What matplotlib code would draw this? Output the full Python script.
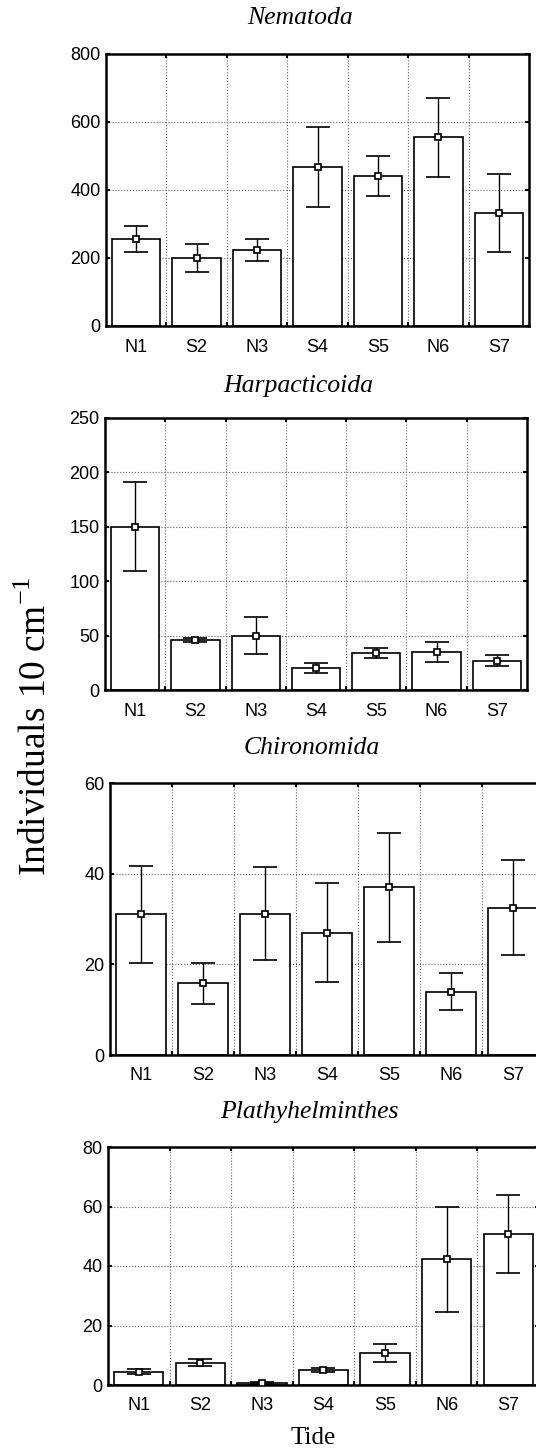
# Mean abundances (+/- error) per station, four taxa

import matplotlib.pyplot as plt
import numpy as np

plt.rcParams['font.family'] = 'Liberation Sans'
plt.rcParams['mathtext.fontset'] = 'custom'
plt.rcParams['mathtext.rm'] = 'Liberation Serif'

# Data
stations = ['N1', 'S2', 'N3', 'S4', 'S5', 'N6', 'S7']

nema_mean = [255, 200, 223, 467, 441, 555, 333]
nema_err = [38, 42, 33, 117, 59, 117, 114]

harp_mean = [150, 46, 50, 20, 34, 35, 27]
harp_err = [41, 2, 17, 4.5, 5, 9, 5]

chir_mean = [31, 15.8, 31.2, 27, 37, 14, 32.5]
chir_err = [10.7, 4.5, 10.3, 11, 12, 4, 10.5]

plat_mean = [4.5, 7.5, 0.8, 5, 10.7, 42.2, 50.7]
plat_err = [0.8, 1.2, 0.3, 0.6, 3, 17.6, 13]

titles = ['Nematoda', 'Harpacticoida', 'Chironomida', 'Plathyhelminthes']
means = [nema_mean, harp_mean, chir_mean, plat_mean]
errs = [nema_err, harp_err, chir_err, plat_err]
yticks = [np.arange(0, 801, 200), np.arange(0, 251, 50),
          np.arange(0, 61, 20), np.arange(0, 81, 20)]

W, H = 536, 1452
fig = plt.figure(figsize=(W / 100, H / 100), dpi=100)

# axes boxes in pixels: left, right, top, bottom
boxes = [(106, 529, 54, 326),
         (105, 527, 418, 690),
         (110, 544, 783, 1055),
         (108, 539, 1147, 1385)]
title_pos = [(300, 18), (298, 386), (312, 748), (309, 1112)]

x = np.arange(len(stations))
for i in range(4):
    l, r, t, b = boxes[i]
    ax = fig.add_axes([l / W, 1 - b / H, (r - l) / W, (b - t) / H])
    ax.set_axisbelow(True)
    ax.bar(x, means[i], width=0.8, color='white', edgecolor='black',
           linewidth=1.2, zorder=2)
    ax.errorbar(x, means[i], yerr=errs[i], fmt='s', ms=4, mfc='white',
                mec='black', mew=1.2, ecolor='black', elinewidth=1.0,
                capsize=8.5, capthick=1.8, zorder=3)
    ax.set_xlim(-0.5, 6.5)
    ax.set_ylim(yticks[i][0], yticks[i][-1])
    ax.set_yticks(yticks[i])
    ax.set_xticks(x)
    ax.set_xticklabels(stations)
    ax.set_xticks(x[:-1] + 0.5, minor=True)
    ax.tick_params(axis='x', which='major', length=0, labelsize=13, pad=9)
    ax.tick_params(axis='x', which='minor', direction='in', length=3,
                   width=1.5, top=True, bottom=True)
    ax.tick_params(axis='y', direction='in', length=3, width=1.5,
                   right=True, labelsize=13, pad=4)
    ax.grid(True, axis='y', which='major', linestyle=':', color='0.4',
            linewidth=0.8)
    ax.grid(True, axis='x', which='minor', linestyle=':', color='0.4',
            linewidth=0.8)
    for s in ax.spines.values():
        s.set_linewidth(1.8)
    tx, ty = title_pos[i]
    fig.text(tx / W, 1 - ty / H, titles[i], ha='center', va='center',
             fontsize=18.5, family='Liberation Serif', style='italic')

fig.text(36 / W, 1 - 726 / H, r'Individuals 10 cm$^{\mathrm{-1}}$',
         rotation=90, ha='center', va='center', fontsize=27,
         family='Liberation Serif')
fig.text(313 / W, 1 - 1438 / H, 'Tide', ha='center', va='center',
         fontsize=18, family='Liberation Serif')

fig.savefig('out.png', dpi=100)
